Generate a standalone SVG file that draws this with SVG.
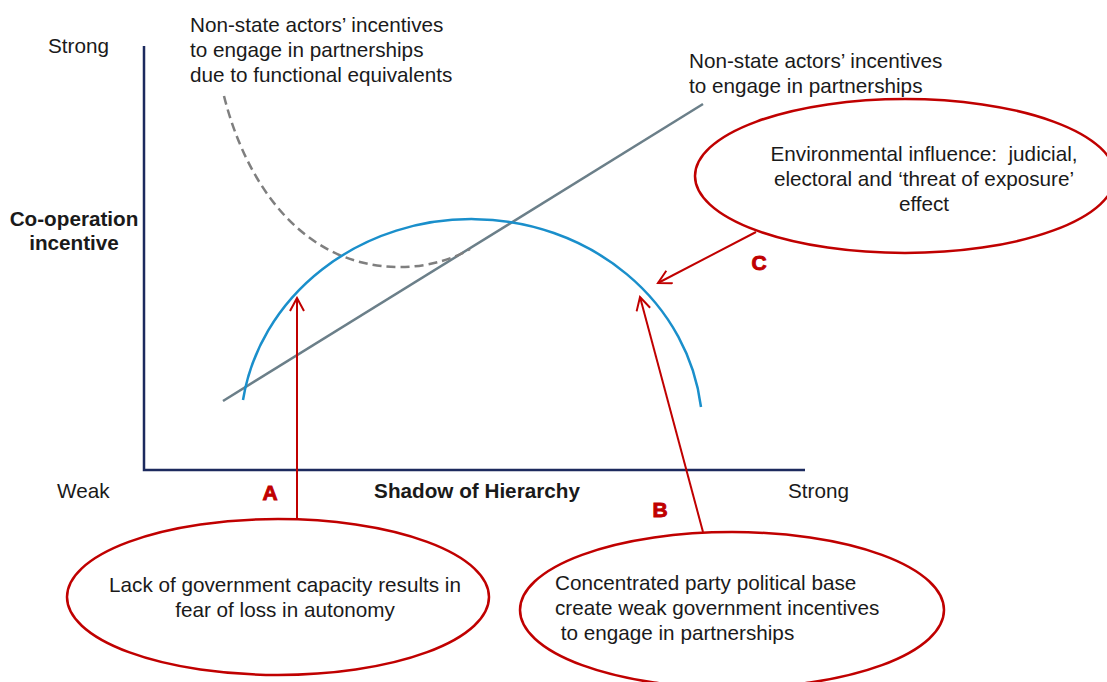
<svg xmlns="http://www.w3.org/2000/svg" width="1107" height="682" viewBox="0 0 1107 682">
<style>
text{font-family:"Liberation Sans",Arial,sans-serif;fill:#1a1a1a;font-size:20.7px}
.b{font-weight:bold}
.red{fill:#c00000;stroke:#c00000;stroke-width:0.9;font-weight:bold;font-size:21px}
.oval{fill:none;stroke:#c00000;stroke-width:2.5}
.conn{fill:none;stroke:#c00000;stroke-width:2}
.c{text-anchor:middle}
</style>
<defs>
<marker id="ah" markerUnits="userSpaceOnUse" viewBox="0 0 16 16" markerWidth="16" markerHeight="16" refX="14" refY="8" orient="auto">
<path d="M1,1 L14,8 L1,15" fill="none" stroke="#c00000" stroke-width="2"/>
</marker>
</defs>
<rect width="1107" height="682" fill="#ffffff"/>
<g id="axes">
<path d="M144,46 L144,470 L805,470" fill="none" stroke="#1c2a5e" stroke-width="2.5"/>
<text x="48" y="53">Strong</text>
<text x="74" y="226" class="b c">Co-operation</text>
<text x="74" y="250" class="b c">incentive</text>
<text x="57" y="498">Weak</text>
<text x="477" y="498" class="b c">Shadow of Hierarchy</text>
<text x="788" y="498">Strong</text>
</g>
<g id="curves">
<path id="gray-line" d="M223,401 L703,104" stroke="#6b7f89" stroke-width="2.5" fill="none"/>
<path id="dashed-curve" d="M224,96 C245,180 300,267 400,267 C430,267 455,258 470,249" stroke="#7f7f7f" stroke-width="2.5" fill="none" stroke-dasharray="9,5"/>
<path id="blue-arc" d="M243,400 A231,212 0 0 1 701,407" stroke="#1a8fcb" stroke-width="2.5" fill="none"/>
</g>
<g id="label-functional">
<text x="190" y="32">Non-state actors’ incentives</text>
<text x="190" y="57">to engage in partnerships</text>
<text x="190" y="82">due to functional equivalents</text>
</g>
<g id="label-incentives">
<text x="689" y="68">Non-state actors’ incentives</text>
<text x="689" y="93">to engage in partnerships</text>
</g>
<g id="node-A">
<ellipse class="oval" cx="278" cy="597" rx="211" ry="78"/>
<text x="285" y="592" class="c">Lack of government capacity results in</text>
<text x="285" y="617" class="c">fear of loss in autonomy</text>
</g>
<g id="node-B">
<ellipse class="oval" cx="732" cy="610" rx="212" ry="78"/>
<text x="555" y="590">Concentrated party political base</text>
<text x="555" y="615">create weak government incentives</text>
<text x="555" y="640" xml:space="preserve"> to engage in partnerships</text>
</g>
<g id="node-C">
<ellipse class="oval" cx="905" cy="176" rx="210" ry="77"/>
<text x="924" y="161" class="c" xml:space="preserve">Environmental influence:  judicial,</text>
<text x="924" y="186" class="c">electoral and ‘threat of exposure’</text>
<text x="924" y="211" class="c">effect</text>
</g>
<g id="connectors">
<line class="conn" x1="297" y1="518" x2="297" y2="298" marker-end="url(#ah)"/>
<line class="conn" x1="703" y1="532" x2="640" y2="297" marker-end="url(#ah)"/>
<line class="conn" x1="756" y1="232" x2="658" y2="283" marker-end="url(#ah)"/>
<text x="270" y="500" class="red c">A</text>
<text x="660" y="517" class="red c">B</text>
<text x="759" y="270" class="red c">C</text>
</g>
</svg>
